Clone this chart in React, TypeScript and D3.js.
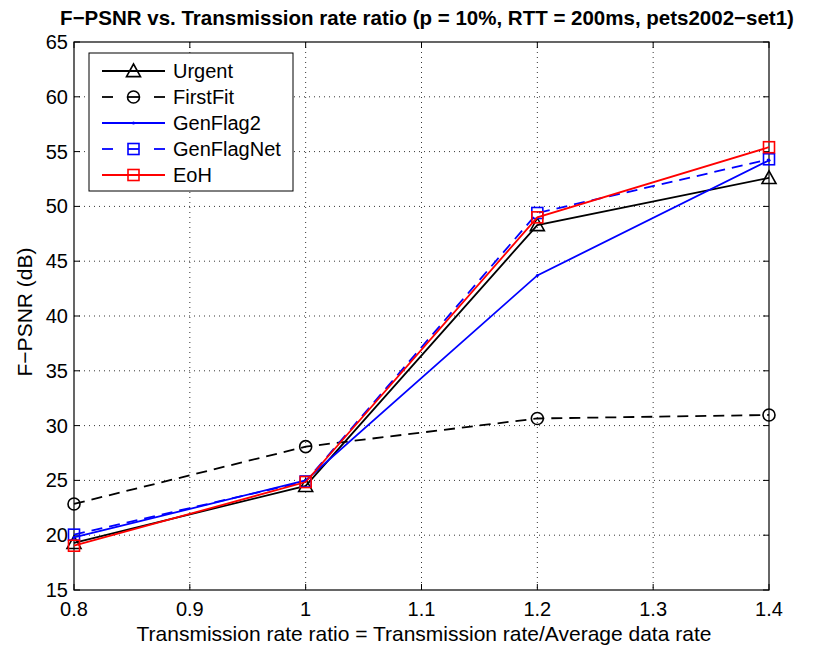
import React from "react";
import * as d3 from "d3";

const xValues = [0.8, 1.0, 1.2, 1.4];
const urgent = [19.3, 24.5, 48.3, 52.6];
const firstFit = [22.85, 28.08, 30.65, 30.97];
const genFlag2 = [19.8, 25.0, 43.7, 54.2];
const genFlagNet = [20.05, 24.9, 49.4, 54.3];
const eoh = [19.04, 24.85, 49.0, 55.4];
const xTicks = [0.8, 0.9, 1.0, 1.1, 1.2, 1.3, 1.4];
const yTicks = [15, 20, 25, 30, 35, 40, 45, 50, 55, 60, 65];

type Series = { name: string; values: number[]; color: string; dash?: string; marker: string; width: number };

const series: Series[] = [
  { name: "Urgent", values: urgent, color: "#000000", marker: "triangle", width: 1.8 },
  { name: "FirstFit", values: firstFit, color: "#000000", dash: "11,7", marker: "circle", width: 1.8 },
  { name: "GenFlag2", values: genFlag2, color: "#0000ff", marker: "dot", width: 1.8 },
  { name: "GenFlagNet", values: genFlagNet, color: "#0000ff", dash: "11,7", marker: "square", width: 1.8 },
  { name: "EoH", values: eoh, color: "#ff0000", marker: "square", width: 1.8 },
];

const L = 74, R = 769, T = 42, B = 590;

function Marker({ type, x, y, color }: { type: string; x: number; y: number; color: string }) {
  if (type === "triangle") {
    const s = 7;
    return <path d={`M${x},${y - s} L${x + s},${y + s * 0.8} L${x - s},${y + s * 0.8} Z`} fill="none" stroke={color} strokeWidth={1.6} />;
  }
  if (type === "circle") return <circle cx={x} cy={y} r={6} fill="none" stroke={color} strokeWidth={1.6} />;
  if (type === "square") return <rect x={x - 5.5} y={y - 5.5} width={11} height={11} fill="none" stroke={color} strokeWidth={1.6} />;
  return <circle cx={x} cy={y} r={1.5} fill={color} />;
}

export default function App() {
  const x = d3.scaleLinear().domain([0.8, 1.4]).range([L, R]);
  const y = d3.scaleLinear().domain([15, 65]).range([B, T]);
  const line = d3.line<number>().x((_, i) => x(xValues[i])).y((d) => y(d));
  const font = "Liberation Sans, Arial, sans-serif";
  return (
    <svg width={815} height={648} style={{ position: "absolute", left: 0, top: 0, background: "#fff" }} fontFamily={font}>
      <rect x={0} y={0} width={815} height={648} fill="#fff" />
      {xTicks.slice(1, -1).map((t) => (
        <line key={"gx" + t} x1={x(t)} x2={x(t)} y1={T} y2={B} stroke="#000" strokeWidth={0.8} strokeDasharray="1,4" />
      ))}
      {yTicks.slice(1, -1).map((t) => (
        <line key={"gy" + t} x1={L} x2={R} y1={y(t)} y2={y(t)} stroke="#000" strokeWidth={0.8} strokeDasharray="1,4" />
      ))}
      {xTicks.map((t) => (
        <g key={"tx" + t}>
          <line x1={x(t)} x2={x(t)} y1={B} y2={B - 6} stroke="#000" />
          <line x1={x(t)} x2={x(t)} y1={T} y2={T + 6} stroke="#000" />
          <text x={x(t)} y={B + 26} fontSize={20} textAnchor="middle">{String(t === 1 ? 1 : t)}</text>
        </g>
      ))}
      {yTicks.map((t) => (
        <g key={"ty" + t}>
          <line x1={L} x2={L + 6} y1={y(t)} y2={y(t)} stroke="#000" />
          <line x1={R} x2={R - 6} y1={y(t)} y2={y(t)} stroke="#000" />
          <text x={L - 6} y={y(t) + 7} fontSize={20} textAnchor="end">{t}</text>
        </g>
      ))}
      <rect x={L} y={T} width={R - L} height={B - T} fill="none" stroke="#000" strokeWidth={1.2} />
      {series.map((s) => (
        <g key={s.name}>
          <path d={line(s.values) || ""} fill="none" stroke={s.color} strokeWidth={s.width} strokeDasharray={s.dash} />
          {s.values.map((v, i) => (
            <Marker key={i} type={s.marker} x={x(xValues[i])} y={y(v)} color={s.color} />
          ))}
        </g>
      ))}
      <rect x={89} y={53} width={204} height={138} fill="#fff" stroke="#000" strokeWidth={1} />
      {series.map((s, i) => {
        const ly = 71 + i * 26;
        return (
          <g key={"lg" + s.name}>
            {s.dash ? (
              <>
                <line x1={102} x2={113} y1={ly} y2={ly} stroke={s.color} strokeWidth={s.width} />
                <line x1={128} x2={139} y1={ly} y2={ly} stroke={s.color} strokeWidth={s.width} />
                <line x1={154} x2={165} y1={ly} y2={ly} stroke={s.color} strokeWidth={s.width} />
              </>
            ) : (
              <line x1={102} x2={165} y1={ly} y2={ly} stroke={s.color} strokeWidth={s.width} />
            )}
            <Marker type={s.marker} x={133.5} y={ly} color={s.color} />
            <text x={173} y={ly + 7} fontSize={20}>{s.name}</text>
          </g>
        );
      })}
      <text x={427} y={25} fontSize={20.5} fontWeight="bold" textAnchor="middle">F−PSNR vs. Transmission rate ratio (p = 10%, RTT = 200ms, pets2002−set1)</text>
      <text x={424} y={641} fontSize={21} textAnchor="middle">Transmission rate ratio = Transmission rate/Average data rate</text>
      <text transform={`translate(32,312) rotate(-90)`} fontSize={21} textAnchor="middle">F−PSNR (dB)</text>
    </svg>
  );
}
